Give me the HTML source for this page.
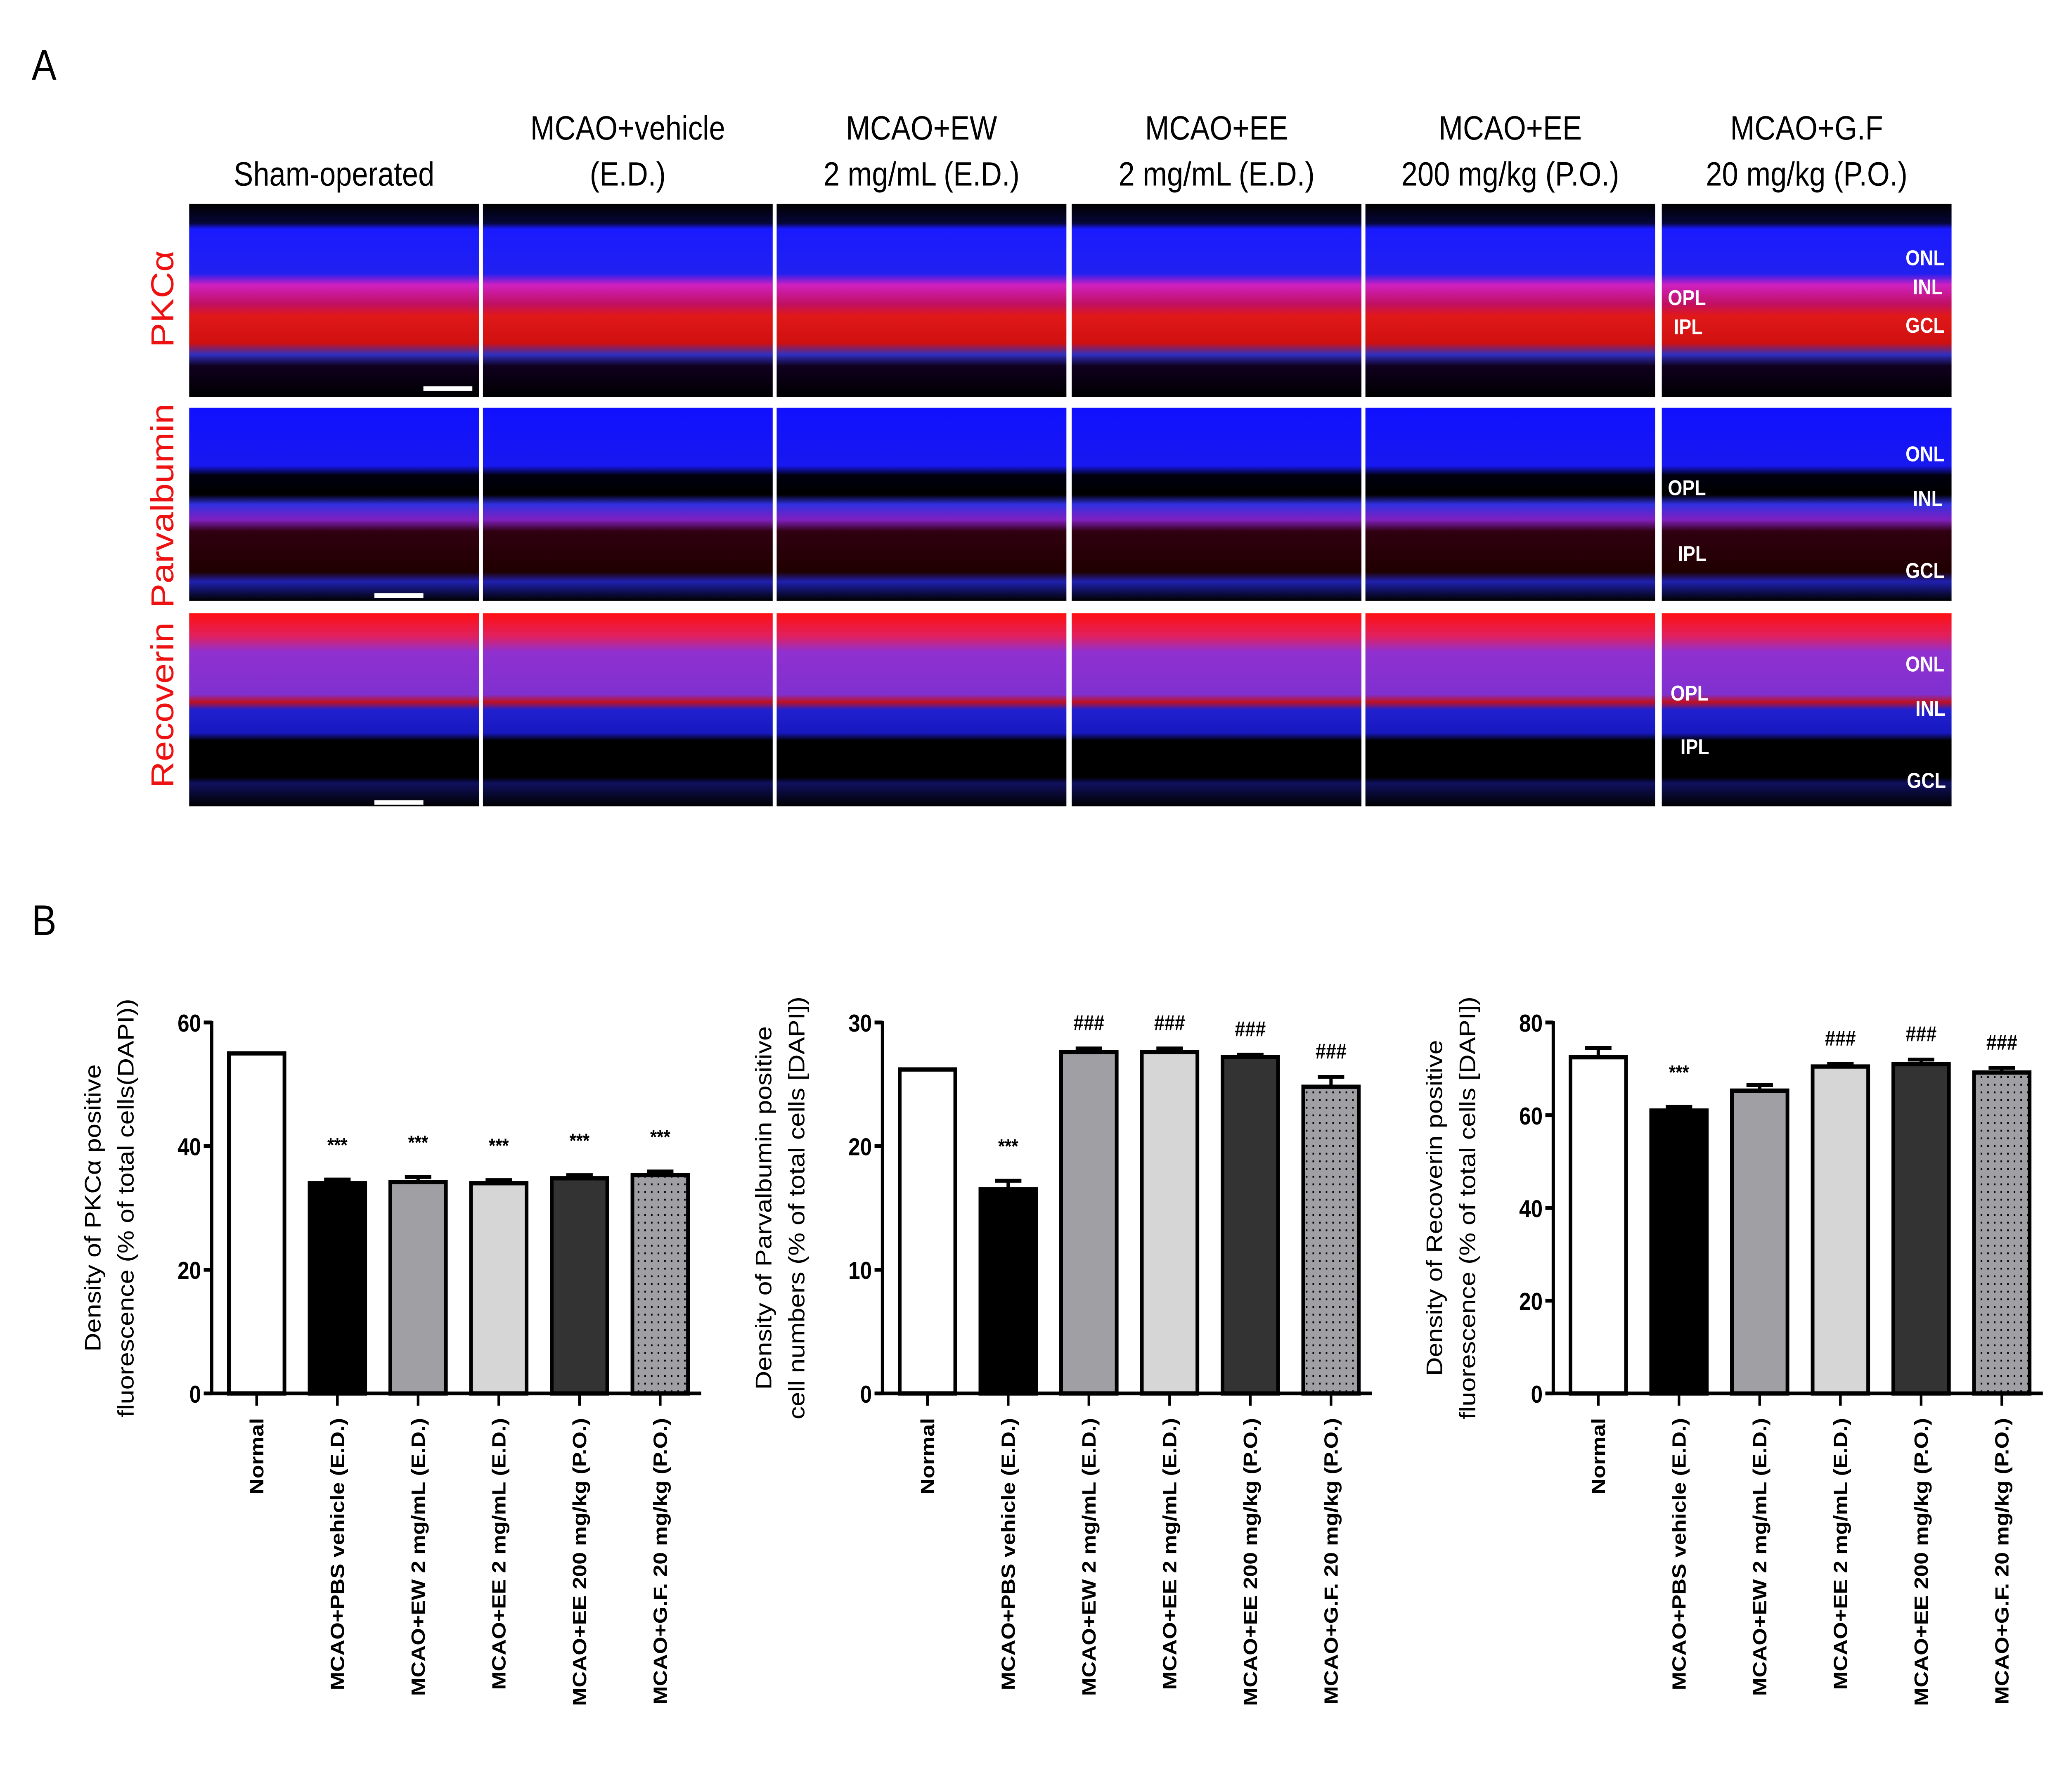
<!DOCTYPE html>
<html><head><meta charset="utf-8"><style>
html,body{margin:0;padding:0;background:#fff;width:100vw;height:100vh;overflow:hidden}
svg{display:block;position:absolute;left:0;top:0;width:100vw;height:100vh}
text{font-family:"Liberation Sans",sans-serif}
</style></head><body>
<svg id="fig" viewBox="0 0 1560 1169" preserveAspectRatio="none" xmlns="http://www.w3.org/2000/svg">
<defs>
<pattern id="dots" width="5" height="5" patternUnits="userSpaceOnUse"><rect width="5" height="5" fill="#a0a0a4"/><rect x="2" y="2" width="1.2" height="1.2" fill="#000"/></pattern>
<linearGradient id="g1" x1="0" y1="0" x2="0" y2="1">
<stop offset="0" stop-color="#000"/><stop offset="0.1" stop-color="#06063a"/><stop offset="0.13" stop-color="#1a1aff"/><stop offset="0.36" stop-color="#2020f0"/><stop offset="0.42" stop-color="#d020c0"/><stop offset="0.52" stop-color="#c01060"/><stop offset="0.58" stop-color="#e01818"/><stop offset="0.72" stop-color="#d01010"/><stop offset="0.78" stop-color="#3030c0"/><stop offset="0.84" stop-color="#100020"/><stop offset="1" stop-color="#000"/></linearGradient>
<linearGradient id="g2" x1="0" y1="0" x2="0" y2="1">
<stop offset="0" stop-color="#1010ff"/><stop offset="0.3" stop-color="#1818f0"/><stop offset="0.35" stop-color="#000010"/><stop offset="0.45" stop-color="#000"/><stop offset="0.5" stop-color="#3030e0"/><stop offset="0.58" stop-color="#8020c0"/><stop offset="0.64" stop-color="#300010"/><stop offset="0.85" stop-color="#200000"/><stop offset="0.9" stop-color="#2020b0"/><stop offset="1" stop-color="#000"/></linearGradient>
<linearGradient id="g3" x1="0" y1="0" x2="0" y2="1">
<stop offset="0" stop-color="#ff1010"/><stop offset="0.12" stop-color="#e02060"/><stop offset="0.2" stop-color="#9030d0"/><stop offset="0.42" stop-color="#8030d0"/><stop offset="0.46" stop-color="#c01020"/><stop offset="0.5" stop-color="#2020d0"/><stop offset="0.62" stop-color="#1818c0"/><stop offset="0.66" stop-color="#000"/><stop offset="0.85" stop-color="#000"/><stop offset="0.88" stop-color="#101060"/><stop offset="1" stop-color="#000"/></linearGradient>
</defs>
<text x="24" y="52" font-size="28">A</text>
<text x="24" y="610" font-size="28">B</text>
<g id="micro"></g>
<g id="charts"></g>
</svg>
<script>
const NS="http://www.w3.org/2000/svg";
function mk(tag,attrs,parent,txt){const e=document.createElementNS(NS,tag);for(const k in attrs)e.setAttribute(k,attrs[k]);if(txt!==undefined)e.textContent=txt;parent.appendChild(e);return e;}
const micro=document.getElementById('micro');
const colX=[143,365,587,810,1032,1256];
const colW=219;
const rowY=[133,266,400];
const rowH=126;
const grads=['url(#g1)','url(#g2)','url(#g3)'];
const headers1=['','MCAO+vehicle','MCAO+EW','MCAO+EE','MCAO+EE','MCAO+G.F'];
const headers2=['Sham-operated','(E.D.)','2 mg/mL (E.D.)','2 mg/mL (E.D.)','200 mg/kg (P.O.)','20 mg/kg (P.O.)'];
const rowLabels=['PKCα','Parvalbumin','Recoverin'];
colX.forEach((x,i)=>{
  const h1=mk('text',{x:x+colW/2,y:91,'font-size':22,'text-anchor':'middle'},micro,headers1[i]);
  
  
  const h2=mk('text',{x:x+colW/2,y:121,'font-size':22,'text-anchor':'middle'},micro,headers2[i]);
  
  
  rowY.forEach((y,r)=>{
    const im=mk('rect',{x:x,y:y,width:colW,height:rowH,fill:grads[r]},micro);
    
    
  });
});
const rowCy=[195,330,460];
rowLabels.forEach((l,r)=>{
  const t=mk('text',{x:0,y:0,'font-size':24,fill:'#ee1111','text-anchor':'middle',transform:`translate(131 ${rowCy[r]}) rotate(-90)`},micro,l);
  
  
});
const bars=[[320,252],[283,387],[283,522]];
bars.forEach(b=>{const s=mk('rect',{x:b[0],y:b[1],width:37,height:3,fill:'#fff'},micro);

});
const layers=[['ONL',1455,173],['INL',1457,192],['OPL',1275,199],['GCL',1455,217],['IPL',1276,218],
['ONL',1455,301],['OPL',1275,323],['INL',1457,330],['IPL',1279,366],['GCL',1455,377],
['ONL',1455,438],['OPL',1277,457],['INL',1459,467],['IPL',1281,492],['GCL',1456,514]];
layers.forEach(l=>{const t=mk('text',{x:l[1],y:l[2],'font-size':14,fill:'#fff','font-weight':'bold','text-anchor':'middle'},micro,l[0]);

});

// ---- chart data ----
const categories=['Normal','MCAO+PBS vehicle (E.D.)','MCAO+EW 2 mg/mL (E.D.)','MCAO+EE 2 mg/mL (E.D.)','MCAO+EE 200 mg/kg (P.O.)','MCAO+G.F. 20 mg/kg (P.O.)'];
const pkcValues=[55,34,34.2,34,34.8,35.3];
const pkcErrors=[0,0.6,0.8,0.5,0.5,0.6];
const pkcMarks=['','***','***','***','***','***'];
const pkcTicks=[0,20,40,60];
const parvValues=[26.2,16.5,27.6,27.6,27.2,24.8];
const parvErrors=[0,0.7,0.3,0.3,0.2,0.8];
const parvMarks=['','***','###','###','###','###'];
const parvTicks=[0,10,20,30];
const recValues=[72.5,61,65.3,70.5,71,69.2];
const recErrors=[2,0.8,1.2,0.6,1,1];
const recMarks=['','***','','###','###','###'];
const recTicks=[0,20,40,60,80];
const fills=['#fff','#000','#a0a0a4','#d6d6d6','#333','url(#dots)'];

const charts=document.getElementById('charts');
function drawChart(ax,values,errors,marks,ticks,title1,title2,name){
  const g=mk('g',{},charts);
  
  
  const y0=909,yTop=667,max=ticks[ticks.length-1];
  const ys=v=>y0-(v/max)*(y0-yTop);
  const bx=i=>ax+13+i*61;
  values.forEach((v,i)=>{
    const x=bx(i),w=42,top=ys(v);
    if(errors[i]>0){
      const e=mk('line',{x1:x+w/2,x2:x+w/2,y1:top,y2:ys(v+errors[i]),stroke:'#000','stroke-width':2.5},g);
      
      
      const c=mk('line',{x1:x+w/2-10,x2:x+w/2+10,y1:ys(v+errors[i]),y2:ys(v+errors[i]),stroke:'#000','stroke-width':2.5},g);
      
      
    }
    const r=mk('rect',{x:x,y:top,width:w,height:y0-top,fill:fills[i],stroke:'#000','stroke-width':2.8},g);
    
    
    if(marks[i]){
      const t=mk('text',{x:x+w/2,y:ys(v+errors[i])-(marks[i]==='***'?18:12),'font-size':marks[i]==='***'?13:14,'font-weight':'bold','text-anchor':'middle'},g,marks[i]);
      
      
    }
    const tk=mk('line',{x1:x+w/2,x2:x+w/2,y1:y0,y2:y0+8,stroke:'#000','stroke-width':2},g);
    
    
    const lb=mk('text',{x:0,y:0,'font-size':14.5,'font-weight':'bold','text-anchor':'end',transform:`translate(${x+w/2+5} ${y0+16}) rotate(-90)`},g,categories[i]);
    
    
  });
  const ya=mk('line',{x1:ax,x2:ax,y1:yTop-1,y2:y0+1,stroke:'#000','stroke-width':2.5},g);
  
  
  const xa=mk('line',{x1:ax-6,x2:ax+370,y1:y0,y2:y0,stroke:'#000','stroke-width':2.5},g);
  
  
  ticks.forEach(t=>{
    const l=mk('line',{x1:ax-6,x2:ax,y1:ys(t),y2:ys(t),stroke:'#000','stroke-width':2.5},g);
    
    
    const tx=mk('text',{x:ax-8,y:ys(t)+6,'font-size':16,'font-weight':'bold','text-anchor':'end'},g,String(t));
    
    
  });
  const t1=mk('text',{x:0,y:0,'font-size':17,'text-anchor':'middle',transform:`translate(${ax-84} 788) rotate(-90)`},g,title1);
  
  
  const t2=mk('text',{x:0,y:0,'font-size':17,'text-anchor':'middle',transform:`translate(${ax-59} 788) rotate(-90)`},g,title2);
  
  
}
drawChart(160,pkcValues,pkcErrors,pkcMarks,pkcTicks,'Density of PKCα positive','fluorescence (% of total cells(DAPI))','pkc-chart');
drawChart(667,parvValues,parvErrors,parvMarks,parvTicks,'Density of Parvalbumin positive','cell numbers (% of total cells [DAPI])','parvalbumin-chart');
drawChart(1174,recValues,recErrors,recMarks,recTicks,'Density of Recoverin positive','fluorescence (% of total cells [DAPI])','recoverin-chart');
</script>
</body></html>
